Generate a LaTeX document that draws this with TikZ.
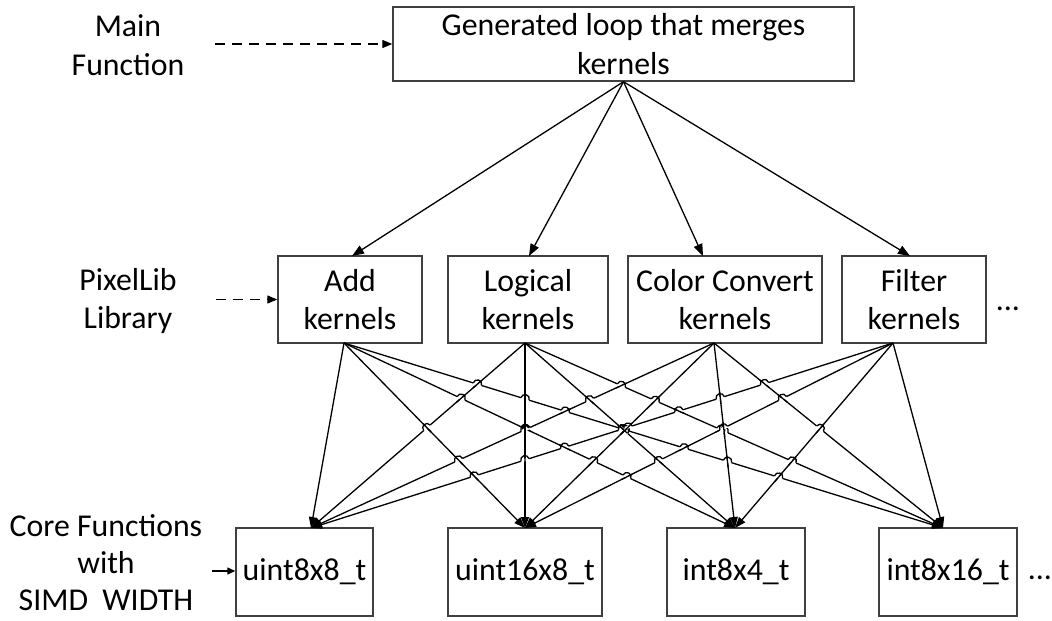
\documentclass[tikz,border=0pt]{standalone}
\usepackage{fontspec}
\setmainfont{Carlito}
\usetikzlibrary{arrows.meta,calc}
\newcommand\lblfont{\fontsize{31.8}{38.5}\selectfont}
\newcommand\corefont{\fontsize{31.8}{37}\selectfont}
\newcommand\XA[1]{\ifcase#1 \or344\or525\or714\or893\fi}
\newcommand\XB[1]{\ifcase#1 \or311\or525\or735\or943\fi}
\newcommand\hopcross[4]{%
  \edef\dxa{\number\numexpr\XB{#2}-\XA{#1}\relax}%
  \edef\dxb{\number\numexpr\XB{#4}-\XA{#3}\relax}%
  \ifnum\dxa<0 \edef\dxa{\number-\dxa}\fi
  \ifnum\dxb<0 \edef\dxb{\number-\dxb}\fi
  \ifnum\dxa>\dxb
    \edef\hopS{#1}\edef\hopT{#2}\edef\othS{#3}\edef\othT{#4}%
  \else
    \edef\hopS{#3}\edef\hopT{#4}\edef\othS{#1}\edef\othT{#2}%
  \fi
  \ifnum\XA{\hopS}<\XB{\hopT}
    \edef\hopL{A\hopS}\edef\hopR{B\hopT}%
  \else
    \edef\hopL{B\hopT}\edef\hopR{A\hopS}%
  \fi
  \coordinate (P) at (intersection of A#1--B#2 and A#3--B#4);
  \coordinate (S) at ($(P)!4.3pt!(\hopL)$);
  \coordinate (E) at ($(P)!4.3pt!(\hopR)$);
  \draw[white,line width=2.8pt] (S) -- (E);
  \draw[wire] ($(P)!6pt!(A\othS)$) -- ($(P)!6pt!(B\othT)$);
  \draw[wire] (S) .. controls ($(S)!1.333!90:(P)$) and ($(E)!1.333!-90:(P)$) .. (E);
}
\begin{document}
\begin{tikzpicture}[x=1pt,y=-1pt,
  box/.style={draw=black!75,line width=1.4pt,inner sep=0pt,align=center,font=\lblfont},
  lbl/.style={inner sep=0pt,align=center,font=\lblfont},
  wire/.style={line width=1.3pt,black},
  conn/.style={wire,-{Triangle[length=11pt,width=8pt]}},
  topconn/.style={wire,-{Triangle[length=12pt,width=9pt]}},
  dasharrow/.style={wire,dash pattern=on 10pt off 7pt,-{Triangle[length=10pt,width=8pt]}},
  solidarrow/.style={wire,-{Triangle[length=8pt,width=7pt]}}
]
\useasboundingbox (0,0) rectangle (1052,621);

% top
\node[box,minimum width=461pt,minimum height=74pt] (top) at (623.5,44) {Generated loop that merges\\kernels};
\node[lbl] (mainlbl) at (128,45) {Main\\Function};
\coordinate (mainstart) at (215,44);
\draw[dasharrow] (mainstart) -- (top.west);

% middle row
\node[box,minimum width=144pt,minimum height=87pt] (add) at (350,299.5) {Add\\kernels};
\node[box,minimum width=160pt,minimum height=87pt] (logical) at (528,299.5) {Logical\\kernels};
\node[box,minimum width=194pt,minimum height=87pt] (color) at (725,299.5) {Color Convert\\kernels};
\node[box,minimum width=144pt,minimum height=87pt] (filter) at (914,299.5) {Filter\\kernels};
\node[lbl,anchor=base] (dotsmid) at (1008,310) {...};
\node[lbl] (pixlbl) at (128,301) {PixelLib\\Library};
\coordinate (pixstart) at (216,299.5);
\draw[dasharrow] (pixstart) -- (add.west);

% bottom row
\node[box,minimum width=137pt,minimum height=88pt] (u8) at (304.5,572) {uint8x8\_t};
\node[box,minimum width=154pt,minimum height=88pt] (u16) at (525,572) {uint16x8\_t};
\node[box,minimum width=138pt,minimum height=88pt] (i84) at (736,572) {int8x4\_t};
\node[box,minimum width=138pt,minimum height=88pt] (i816) at (948,572) {int8x16\_t};
\node[lbl,anchor=base] (dotsbot) at (1040,579) {...};
\node[lbl,font=\corefont] (corelbl) at (106,563) {Core Functions\\with\\SIMD\ \ WIDTH};
\coordinate (corestart) at (212,571);
\draw[solidarrow] (corestart) -- (u8.west |- corestart);

% top connectors
\coordinate (tadd) at (352,256);
\coordinate (tlog) at (529,256);
\coordinate (tcol) at (703,256);
\coordinate (tfil) at (910,256);
\foreach \t in {tadd,tlog,tcol,tfil}{\draw[topconn] (top.south) -- (\t);}

% kernel -> core connectors
\foreach \i in {1,...,4}{
  \coordinate (A\i) at (\XA{\i},343);
  \coordinate (B\i) at (\XB{\i},528);
}
\foreach \s in {1,...,4}{\foreach \t in {1,...,4}{\draw[conn] (A\s) -- (B\t);}}

% line hops at crossings
\foreach \sa in {1,...,4}{\foreach \sb in {1,...,4}{\foreach \ta in {1,...,4}{\foreach \tb in {1,...,4}{%
  \ifnum\sa<\sb\relax\ifnum\ta>\tb\relax\hopcross{\sa}{\ta}{\sb}{\tb}\fi\fi}}}}
\end{tikzpicture}
\end{document}
